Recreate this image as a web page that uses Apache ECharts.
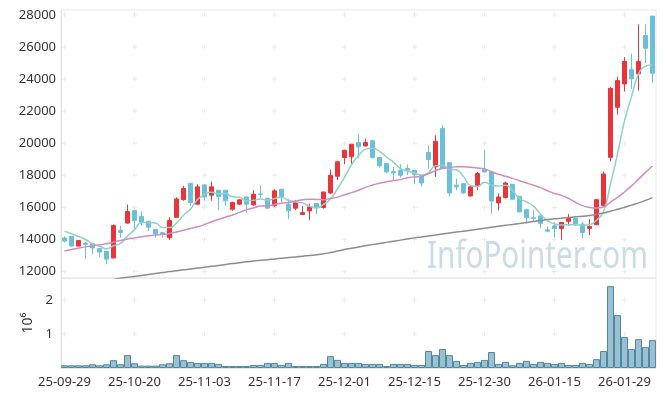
<!DOCTYPE html>
<html>
<head>
<meta charset="utf-8">
<script src="https://cdn.jsdelivr.net/npm/echarts@6/dist/echarts.min.js"></script>
<style>
html,body{margin:0;padding:0;background:#fff;}
#chart{width:665px;height:396px;}
</style>
</head>
<body>
<div id="chart"></div>
<script>
// ---- data ----
const dates = [
'25-09-29','25-09-30','25-10-01','25-10-02','25-10-10','25-10-13','25-10-14','25-10-15','25-10-16','25-10-17',
'25-10-20','25-10-21','25-10-22','25-10-23','25-10-24','25-10-27','25-10-28','25-10-29','25-10-30','25-10-31',
'25-11-03','25-11-04','25-11-05','25-11-06','25-11-07','25-11-10','25-11-11','25-11-12','25-11-13','25-11-14',
'25-11-17','25-11-18','25-11-19','25-11-20','25-11-21','25-11-24','25-11-25','25-11-26','25-11-27','25-11-28',
'25-12-01','25-12-02','25-12-03','25-12-04','25-12-05','25-12-08','25-12-09','25-12-10','25-12-11','25-12-12',
'25-12-15','25-12-16','25-12-17','25-12-18','25-12-19','25-12-22','25-12-23','25-12-24','25-12-26','25-12-29',
'25-12-30','26-01-02','26-01-05','26-01-06','26-01-07','26-01-08','26-01-09','26-01-12','26-01-13','26-01-14',
'26-01-15','26-01-16','26-01-19','26-01-20','26-01-21','26-01-22','26-01-23','26-01-26','26-01-27','26-01-28',
'26-01-29','26-01-30','26-02-02','26-02-03','26-02-04'
];
const openPrices = [
14090,14190,13590,13780,13740,13430,13260,12850,14560,15020,
15800,15430,15140,14630,14420,14110,15380,16490,17500,16200,
17400,16760,17070,17070,15890,16200,16650,16160,16840,16570,
16100,17130,16200,15950,15560,15780,16240,15990,16900,17940,
19110,19150,20040,19830,20150,19110,18730,18230,18320,18420,
18320,18000,19420,18520,20920,18790,17380,17480,16710,17380,
18380,18210,16280,16610,17440,16690,15860,15360,15470,14600,
14850,14690,15130,15310,14960,14690,14920,16100,19120,22240,
23690,24590,24320,26710,27920
];
const closePrices = [
13900,13590,13940,13700,13470,13220,12780,14870,14440,15740,
15180,15080,14770,14360,14320,15180,16520,17180,16300,17280,
16650,17280,16680,16410,16300,16470,16200,16820,16800,15950,
17030,16610,15790,16300,15670,16030,15990,16960,18000,18840,
19560,19940,19770,20040,19110,18590,18210,18150,18000,18320,
18040,17520,18980,20120,18420,16900,17280,16900,17280,18110,
18210,16400,16650,17520,16510,15720,15360,15300,15000,14520,
14690,15060,15310,14960,14440,14810,16480,18080,23420,23900,
25090,24010,25090,25920,24360
];
const lowPrices = [
13820,13560,13570,12800,13070,12910,12450,12830,14110,15000,
14600,14870,14520,14110,14110,13980,15370,16410,16100,16190,
16410,16410,15830,16100,15790,16160,15680,16100,16610,15940,
16030,16300,15270,15830,15520,15200,15570,15920,16820,17690,
18690,18690,19040,19810,19040,18480,18110,17650,17860,18000,
17440,17320,18420,17900,18410,16690,17070,16860,16690,17070,
18200,15610,15820,16550,16500,15710,14990,15150,14700,14440,
14130,13980,14850,14850,14080,14270,14910,16090,18870,21780,
23220,23380,23280,25000,23760
];
const highPrices = [
14190,14200,13960,13850,13760,13440,13270,14930,14850,16180,
15810,15760,15150,14640,14460,15390,16630,17340,17510,17440,
17410,17610,17080,17080,16360,16510,16660,17070,17380,16580,
17130,17140,16510,16450,16080,16240,16250,16970,18360,18900,
19600,19950,20560,20290,20160,19120,18740,18520,18690,18670,
18330,18010,19880,20500,21120,18800,17800,17490,17380,18210,
19560,18220,16860,17590,17450,16700,15870,15820,15600,14810,
15100,15070,15580,15320,15100,15270,16520,18240,23490,24150,
25360,25570,27400,27400,27930
];
const ma5 = [
14520,14360,14190,14000,13720,13580,13420,13610,13760,14210,
14600,15060,15040,15030,14740,14740,15030,15510,15900,16490,
16790,16940,16840,16860,16660,16630,16410,16440,16520,16450,
16560,16640,16440,16340,16280,16080,15960,16190,16530,17160,
17870,18660,19220,19630,19680,19490,19140,18820,18410,18250,
18140,18010,18170,18600,18620,18390,18340,17920,17360,17290,
17560,17380,17330,17380,17060,16560,16350,16080,15580,15180,
14970,14910,14920,14910,14890,14920,15200,15750,17450,19340,
21390,22900,24300,24800,24890
];
const ma20 = [
13280,13380,13460,13540,13610,13670,13730,13830,13940,14030,
14100,14170,14230,14280,14320,14380,14470,14580,14690,14790,
14930,15110,15250,15390,15530,15690,15860,15960,16080,16090,
16180,16260,16310,16400,16470,16510,16490,16480,16560,16640,
16790,16920,17070,17250,17390,17500,17600,17670,17730,17850,
17900,17940,18100,18290,18430,18470,18540,18540,18500,18460,
18400,18220,18060,17940,17810,17660,17520,17380,17230,17040,
16870,16750,16560,16310,16110,16000,15960,16020,16330,16620,
16960,17340,17760,18180,18580
];
const ma120 = [
null,null,null,null,null,null,null,11520,11580,11640,
11700,11760,11820,11880,11940,12000,12050,12110,12160,12220,
12270,12330,12380,12440,12500,12550,12610,12660,12700,12740,
12790,12830,12870,12910,12960,13000,13050,13110,13190,13280,
13370,13450,13530,13610,13680,13750,13820,13890,13960,14030,
14100,14160,14220,14280,14340,14400,14460,14520,14580,14640,
14700,14760,14820,14880,14940,15000,15060,15120,15180,15240,
15290,15330,15370,15410,15450,15500,15560,15650,15760,15880,
16000,16140,16280,16440,16610
];
const volumes = [ // millions
0.08,0.08,0.08,0.08,0.11,0.08,0.11,0.23,0.11,0.38,
0.14,0.07,0.07,0.07,0.11,0.14,0.38,0.23,0.18,0.15,
0.15,0.15,0.12,0.06,0.06,0.06,0.06,0.09,0.09,0.15,
0.15,0.09,0.15,0.06,0.06,0.06,0.06,0.12,0.35,0.24,
0.15,0.15,0.15,0.12,0.12,0.12,0.06,0.12,0.12,0.12,
0.09,0.09,0.50,0.38,0.56,0.38,0.21,0.09,0.15,0.18,
0.24,0.47,0.12,0.18,0.08,0.15,0.21,0.12,0.18,0.15,
0.12,0.15,0.09,0.09,0.15,0.12,0.26,0.50,2.41,1.56,
0.91,0.56,0.85,0.62,0.82
];
const priceTicks = [12000,14000,16000,18000,20000,22000,24000,26000,28000];
const volumeTicks = [1,2];
const labelEvery = 10;

// ---- build ----
const candleData = openPrices.map((o, i) => [o, closePrices[i], lowPrices[i], highPrices[i]]);
const tickCats = [];
for (let i = 0; i < dates.length; i += labelEvery) tickCats.push(i);
const crossPrice = [];
tickCats.forEach(c => priceTicks.forEach(v => crossPrice.push([c, v])));
const crossVol = [];
tickCats.forEach(c => volumeTicks.forEach(v => crossVol.push([c, v])));

const FONT = '"Noto Sans", "DejaVu Sans", sans-serif';
const plusPath = 'path://M0,2H5V3H0Z M2,0H3V5H2Z';
const RED = '#e8343b', BLUE = '#6bbfd9';

const chart = echarts.init(document.getElementById('chart'), null, {renderer: 'canvas'});
chart.setOption({
  animation: false,
  backgroundColor: '#ffffff',
  textStyle: {fontFamily: FONT},
  grid: [
    {left: 61, right: 9, top: 10, height: 268, show: true, borderColor: '#e6e6e6', borderWidth: 1, backgroundColor: 'transparent'},
    {left: 61, right: 9, top: 278, height: 90, show: true, borderColor: '#e6e6e6', borderWidth: 1, backgroundColor: 'transparent'}
  ],
  graphic: [{
    type: 'text', x: 648, y: 257, scaleX: 0.78, originX: 0, originY: 0, z: 0, silent: true,
    style: {text: 'InfoPointer.com', font: '38px ' + FONT, fill: '#c9dbe4', align: 'right', verticalAlign: 'middle'}
  }],
  xAxis: [
    {type: 'category', gridIndex: 0, data: dates, boundaryGap: true,
     axisLine: {show: false}, axisTick: {show: false}, axisLabel: {show: false}, splitLine: {show: false}},
    {type: 'category', gridIndex: 1, data: dates, boundaryGap: true,
     axisLine: {show: true, lineStyle: {color: '#e6e6e6'}}, axisTick: {show: false},
     axisLabel: {interval: labelEvery - 1, color: '#333', fontSize: 13, margin: 8, fontFamily: FONT},
     splitLine: {show: false}}
  ],
  yAxis: [
    {type: 'value', gridIndex: 0, min: 11600, max: 28300, splitNumber: 8, scale: true,
     axisLine: {show: true, lineStyle: {color: '#e0e0e0'}}, axisTick: {show: false}, splitLine: {show: false},
     axisLabel: {color: '#333', fontSize: 13, margin: 5, showMinLabel: false, showMaxLabel: false, fontFamily: FONT,
                 formatter: v => String(v)}},
    {type: 'value', gridIndex: 1, min: 0, max: 2.65, interval: 1,
     name: '10\u2076', nameLocation: 'middle', nameRotate: 90, nameGap: 24,
     nameTextStyle: {color: '#333', fontSize: 14, fontFamily: FONT},
     axisLine: {show: true, lineStyle: {color: '#e0e0e0'}}, axisTick: {show: false}, splitLine: {show: false},
     axisLabel: {color: '#333', fontSize: 13, margin: 8, showMinLabel: false, showMaxLabel: false, fontFamily: FONT,
                 formatter: v => String(v)}}
  ],
  series: [
    {type: 'scatter', xAxisIndex: 0, yAxisIndex: 0, data: crossPrice, symbol: plusPath, symbolSize: 5,
     itemStyle: {color: '#e4e4e4'}, silent: true, z: 1},
    {type: 'scatter', xAxisIndex: 1, yAxisIndex: 1, data: crossVol, symbol: plusPath, symbolSize: 5,
     itemStyle: {color: '#e4e4e4'}, silent: true, z: 1},
    {type: 'candlestick', xAxisIndex: 0, yAxisIndex: 0, data: candleData, barWidth: '62%', z: 3,
     itemStyle: {color: RED, color0: BLUE, borderColor: RED, borderColor0: BLUE, borderWidth: 1}},
    {type: 'line', xAxisIndex: 0, yAxisIndex: 0, data: ma5, smooth: true, showSymbol: false, z: 4,
     lineStyle: {color: '#8fd1c7', width: 1.5}},
    {type: 'line', xAxisIndex: 0, yAxisIndex: 0, data: ma20, smooth: true, showSymbol: false, z: 4,
     lineStyle: {color: '#cf8cc6', width: 1.5}},
    {type: 'line', xAxisIndex: 0, yAxisIndex: 0, data: ma120, smooth: true, showSymbol: false, z: 4,
     lineStyle: {color: '#8c8c8c', width: 1.5}},
    {type: 'bar', xAxisIndex: 1, yAxisIndex: 1, data: volumes, barWidth: '100%', barCategoryGap: '0%', z: 3,
     itemStyle: {color: 'rgba(92,154,182,0.62)', borderColor: '#4f88a3', borderWidth: 1}}
  ]
});
</script>
</body>
</html>
